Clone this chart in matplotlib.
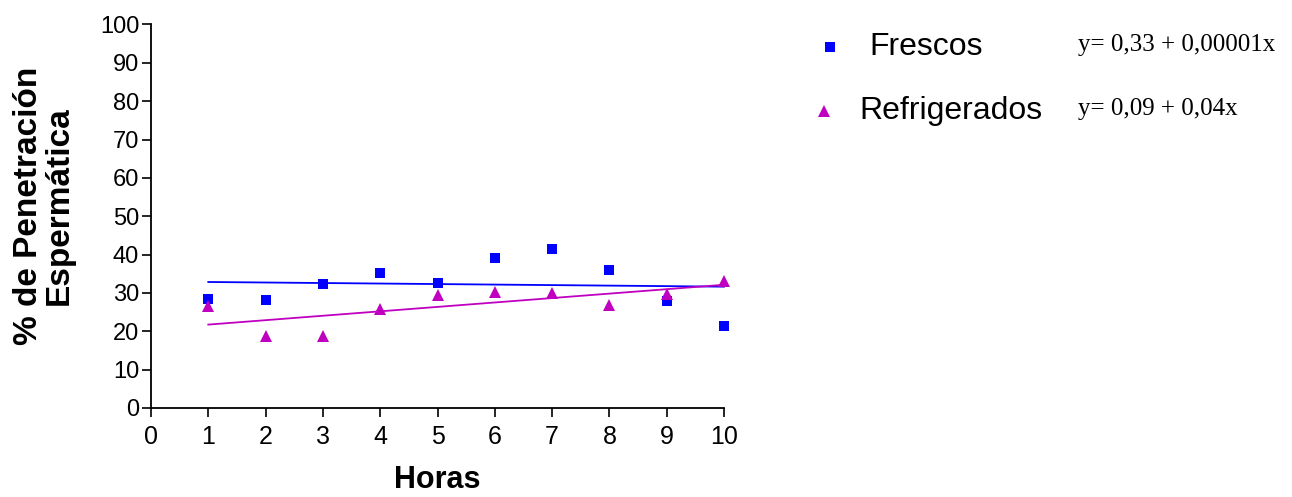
import numpy as np
import matplotlib
matplotlib.use("Agg")
import matplotlib.pyplot as plt
from matplotlib.lines import Line2D

# Sampling times (hours)
horas = [1, 2, 3, 4, 5, 6, 7, 8, 9, 10]
# Sperm penetration (%) for fresh and refrigerated semen
frescos = [28.4, 28.2, 32.4, 35.1, 32.7, 39.0, 41.4, 36.1, 27.9, 21.3]
refrigerados = [26.5, 18.8, 18.8, 25.7, 29.5, 30.3, 30.1, 26.9, 29.6, 33.2]

series_names = ["Frescos", "Refrigerados"]
ecuaciones = ["y= 0,33 + 0,00001x", "y= 0,09 + 0,04x"]

x_ticks = list(range(0, 11))
y_ticks = list(range(0, 101, 10))

BLUE = "#0000FF"
MAGENTA = "#C000C0"
SANS = ["Liberation Sans", "DejaVu Sans"]
SERIF = ["Liberation Serif", "DejaVu Serif"]

plt.rcParams["font.family"] = SANS

W, H = 1292, 497
fig = plt.figure(figsize=(W / 100, H / 100), dpi=100)
ax = fig.add_axes([151 / W, (H - 408) / H, (724 - 151) / W, (408 - 24.5) / H])

x = np.array(horas, dtype=float)
for ys, color, marker, ms in [(frescos, BLUE, "s", 7.4), (refrigerados, MAGENTA, "^", 8.8)]:
    ys = np.array(ys, dtype=float)
    ax.plot(x, ys, linestyle="none", marker=marker, color=color, markersize=ms,
            markeredgewidth=0, zorder=3, clip_on=False)
    slope, intercept = np.polyfit(x, ys, 1)
    xl = np.array([x.min(), x.max()])
    ax.plot(xl, intercept + slope * xl, color=color, linewidth=1.3, zorder=2,
            clip_on=False)

ax.set_xlim(0, 10)
ax.set_ylim(0, 100)
ax.set_xticks(x_ticks)
ax.set_yticks(y_ticks)
ax.tick_params(axis="both", direction="out", length=6.5, width=1.2, color="black")
ax.tick_params(axis="x", labelsize=18, pad=6)
ax.tick_params(axis="y", labelsize=17, pad=2)
for side in ["top", "right"]:
    ax.spines[side].set_visible(False)
for side in ["left", "bottom"]:
    ax.spines[side].set_linewidth(1.3)
    ax.spines[side].set_color("black")

ax.set_xlabel("Horas", fontsize=22, fontweight="bold", labelpad=11)
fig.text(44 / W, 1 - 206 / H, "% de Penetración\nEspermática", rotation=90,
         ha="center", va="center", multialignment="center",
         fontsize=24, fontweight="bold", linespacing=1.0)

# Legend with fitted equations
legend_rows = [
    (series_names[0], ecuaciones[0], BLUE, "s", 6.7, 830, 869, 47),
    (series_names[1], ecuaciones[1], MAGENTA, "^", 8.4, 824, 859, 111),
]
for name, eq, color, marker, ms, mx, tx, ty in legend_rows:
    fig.add_artist(Line2D([mx / W], [1 - ty / H], transform=fig.transFigure,
                          marker=marker, color=color, markersize=ms,
                          markeredgewidth=0, linestyle="none"))
    fig.text(tx / W, 1 - ty / H, name, ha="left", va="center", fontsize=23)
    fig.text(1078 / W, 1 - (ty - 2) / H, eq, ha="left", va="center",
             fontsize=18, family=SERIF)

fig.savefig("out.png", dpi=100)
